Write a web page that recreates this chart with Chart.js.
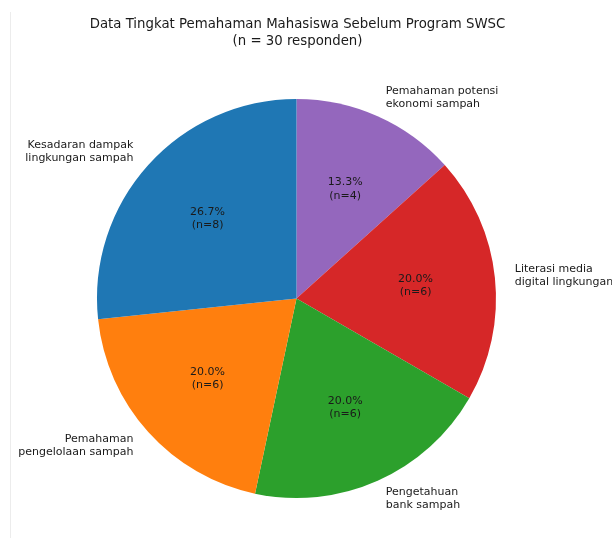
<!DOCTYPE html>
<html>
<head>
<meta charset="utf-8">
<script src="https://cdn.jsdelivr.net/npm/chart.js@4.4.1/dist/chart.umd.min.js"></script>
<style>
  html, body { margin: 0; padding: 0; background: #fff; }
  #wrap { position: relative; width: 612px; height: 538px; }
  #edge { position: absolute; left: 10px; top: 12px; width: 1px; height: 526px; background: #ececec; }
  canvas { position: absolute; left: 0; top: 0; }
</style>
</head>
<body>
<div id="wrap">
  <canvas id="c" width="612" height="538"></canvas>
  <div id="edge"></div>
</div>
<script>
// Data (in the order drawn counter-clockwise from the top in the original)
const categories = [
  ["Kesadaran dampak", "lingkungan sampah"],
  ["Pemahaman", "pengelolaan sampah"],
  ["Pengetahuan", "bank sampah"],
  ["Literasi media", "digital lingkungan"],
  ["Pemahaman potensi", "ekonomi sampah"]
];
const counts = [8, 6, 6, 6, 4];
const colors = ["#1f77b4", "#ff7f0e", "#2ca02c", "#d62728", "#9467bd"];
const titleLines = ["Data Tingkat Pemahaman Mahasiswa Sebelum Program SWSC", "(n = 30 responden)"];

// Chart.js draws clockwise, so reverse to reproduce counter-clockwise order
const labelsR = categories.slice().reverse();
const countsR = counts.slice().reverse();
const colorsR = colors.slice().reverse();
const total = counts.reduce((a, b) => a + b, 0);

const FONT = '"DejaVu Sans", "Liberation Sans", sans-serif';

const labelPlugin = {
  id: 'mplLabels',
  afterDraw(chart) {
    const ctx = chart.ctx;
    const meta = chart.getDatasetMeta(0);
    ctx.save();
    // title
    ctx.fillStyle = '#1a1a1a';
    ctx.font = '13.3px ' + FONT;
    ctx.textAlign = 'center';
    ctx.textBaseline = 'middle';
    ctx.fillText(titleLines[0], 297.5, 25);
    ctx.fillText(titleLines[1], 297.5, 41.5);

    meta.data.forEach((arc, i) => {
      const p = arc.getProps(['x', 'y', 'startAngle', 'endAngle', 'outerRadius'], true);
      const mid = (p.startAngle + p.endAngle) / 2;
      const cx = Math.cos(mid), cy = Math.sin(mid);
      // outer label at 1.1 r
      const lx = p.x + cx * p.outerRadius * 1.1;
      const ly = p.y + cy * p.outerRadius * 1.1;
      ctx.font = '11px ' + FONT;
      ctx.fillStyle = '#1a1a1a';
      ctx.textAlign = cx < 0 ? 'right' : 'left';
      ctx.textBaseline = 'middle';
      const lines = labelsR[i];
      const lh = 13.2;
      lines.forEach((t, k) => {
        ctx.fillText(t, lx, ly + (k - (lines.length - 1) / 2) * lh);
      });
      // pct label at 0.6 r
      const px = p.x + cx * p.outerRadius * 0.6;
      const py = p.y + cy * p.outerRadius * 0.6;
      ctx.textAlign = 'center';
      const pct = (countsR[i] / total * 100).toFixed(1) + '%';
      ctx.fillText(pct, px, py - lh / 2);
      ctx.fillText('(n=' + countsR[i] + ')', px, py + lh / 2);
    });
    ctx.restore();
  }
};

new Chart(document.getElementById('c'), {
  type: 'pie',
  data: {
    labels: labelsR.map(l => l.join(' ')),
    datasets: [{
      data: countsR,
      backgroundColor: colorsR,
      borderWidth: 0,
      hoverOffset: 0
    }]
  },
  options: {
    responsive: false,
    animation: false,
    rotation: 0,
    layout: { padding: { left: 97, top: 99, right: 116, bottom: 40 } },
    plugins: {
      legend: { display: false },
      title: { display: false },
      tooltip: { enabled: false }
    },
    events: []
  },
  plugins: [labelPlugin]
});
</script>
</body>
</html>
